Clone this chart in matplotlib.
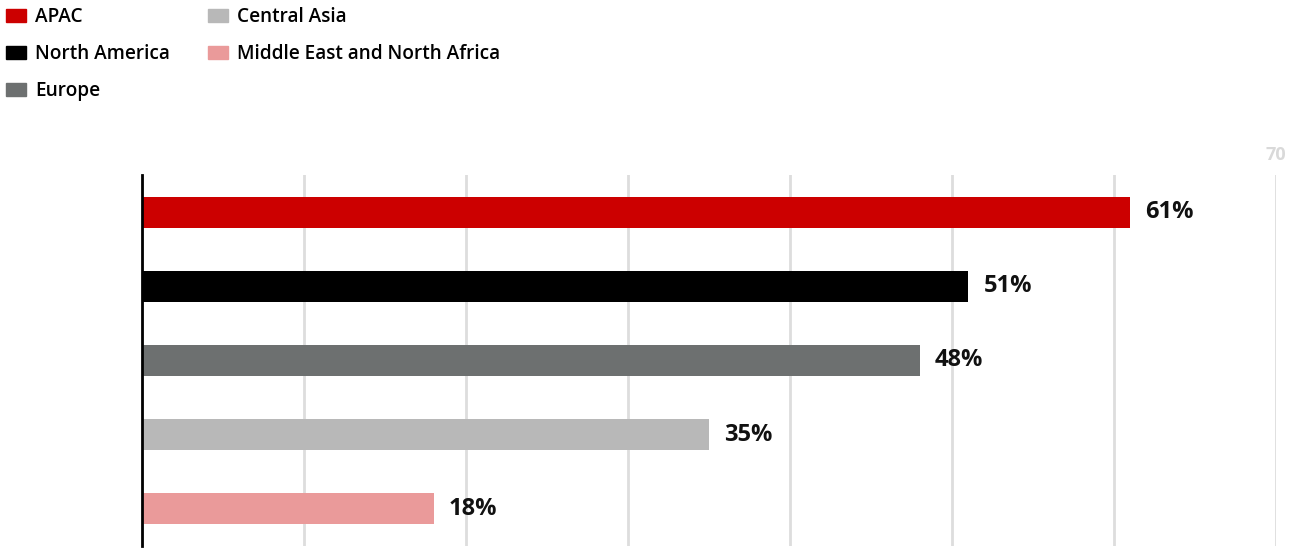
import matplotlib
matplotlib.use("Agg")
import matplotlib.pyplot as plt

regions = ["APAC", "North America", "Europe", "Central Asia", "Middle East and North Africa"]
values = [61, 51, 48, 35, 18]
colors = ["#cc0000", "#000000", "#6d7070", "#b8b8b8", "#ea9a9a"]
xticks = [0, 10, 20, 30, 40, 50, 60, 70]
xticklabels = ["", "", "", "", "", "", "", "70"]

plt.rcParams['font.family'] = ['Open Sans', 'DejaVu Sans']

W, H = 1291, 549
fig = plt.figure(figsize=(W / 100, H / 100), dpi=100)
ax = fig.add_axes([142 / W, 3 / H, (1276 - 142) / W, (546 - 175) / H])

ypos = list(range(len(regions)))
ax.barh(ypos, values, height=0.42, color=colors, zorder=3)
for y, v in zip(ypos, values):
    ax.text(v + 0.95, y, f"{v}%", va="center", ha="left", fontsize=17,
            fontweight="bold", color="#111111", zorder=4)

ax.set_xlim(0, 70)
ax.set_ylim(4.5, -0.5)
ax.set_yticks([])
ax.set_xticks(xticks)
ax.set_xticklabels(xticklabels)
ax.xaxis.set_ticks_position("top")
ax.xaxis.set_label_position("top")
ax.tick_params(axis="x", length=0, pad=8, labelsize=13, labelcolor="#d9d9d9")
for lbl in ax.get_xticklabels():
    lbl.set_fontweight("bold")
ax.grid(axis="x", color="#dddddd", linewidth=2, zorder=1)
for s in ["top", "right", "bottom"]:
    ax.spines[s].set_visible(False)
ax.spines["left"].set_color("#000000")
ax.spines["left"].set_linewidth(2)
ax.spines["left"].set_zorder(5)

handles = [plt.Rectangle((0, 0), 1, 1, color=c) for c in colors]
fig.legend(handles, regions, loc="upper left", bbox_to_anchor=(6 / W, 1 - 7 / H), ncol=2,
           frameon=False, prop={"size": 13.7, "weight": "semibold"},
           handlelength=1.03, handleheight=0.66, handletextpad=0.5,
           labelspacing=0.89, columnspacing=2.0, borderaxespad=0, borderpad=0)

fig.savefig("out.png", dpi=100)
